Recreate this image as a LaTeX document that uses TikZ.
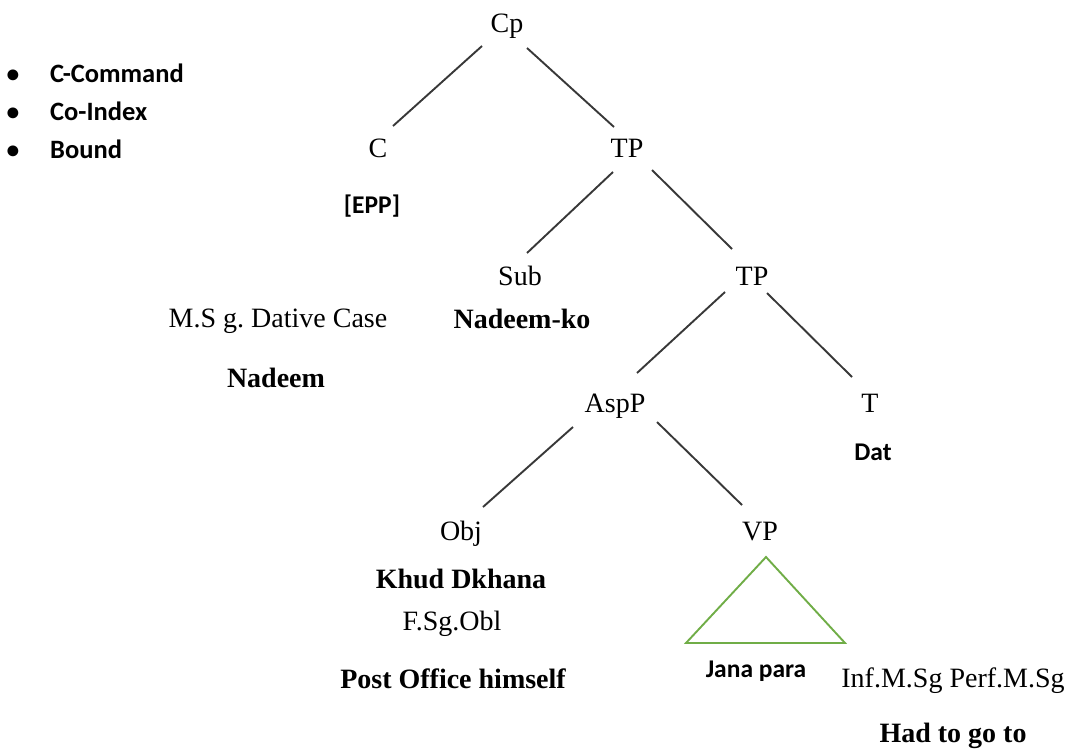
\documentclass[tikz,border=0pt]{standalone}
\usepackage{fontspec}
\setmainfont{Liberation Serif}
\newfontfamily\carlito{Carlito}
\frenchspacing
\begin{document}
\begin{tikzpicture}[x=1pt,y=-1pt,
  lbl/.style={inner sep=0pt,anchor=base,font=\fontsize{28}{34}\selectfont},
  blbl/.style={lbl,font=\fontsize{28}{34}\selectfont\bfseries},
  clbl/.style={inner sep=0pt,anchor=base,font=\fontsize{25.5}{30}\selectfont\carlito\bfseries},
  item/.style={inner sep=0pt,anchor=base west,font=\fontsize{26.5}{30}\selectfont\carlito\bfseries},
  edge/.style={line width=1.9pt,draw=black!78},
  tri/.style={line width=1.9pt,draw={rgb,255:red,112;green,173;blue,71}}
]
\useasboundingbox (0,0) rectangle (1076,753);

% bullet list
\node[clbl] (b1) at (13,82) {•};
\node[clbl] (b2) at (13,120) {•};
\node[clbl] (b3) at (13,158) {•};
\node[item] (i1) at (50,82) {C-Command};
\node[item] (i2) at (50,120) {Co-Index};
\node[item] (i3) at (50,158) {Bound};

% tree nodes
\node[lbl] (cp) at (507,32) {Cp};
\node[lbl] (c) at (378,157) {C};
\node[lbl] (tp1) at (627,157) {TP};
\node[lbl] (sub) at (520,285) {Sub};
\node[lbl] (tp2) at (752,285) {TP};
\node[lbl] (asp) at (615,412) {AspP};
\node[lbl] (t) at (870,412) {T};
\node[lbl] (obj) at (461,540) {Obj};
\node[lbl] (vp) at (760,540) {VP};

% annotations
\node[clbl] (epp) at (372,213) {[EPP]};
\node[lbl] (msg) at (278,327) {M.S g. Dative Case};
\node[blbl] (nad) at (276,387) {Nadeem};
\node[blbl] (nadko) at (522,328) {Nadeem-ko};
\node[clbl] (dat) at (873,460) {Dat};
\node[blbl] (khud) at (461,588) {Khud Dkhana};
\node[lbl] (fsg) at (452,630) {F.Sg.Obl};
\node[blbl] (post) at (453,688) {Post Office himself};
\node[clbl] (jana) at (756,677) {Jana para};
\node[lbl] (inf) at (953,687) {Inf.M.Sg Perf.M.Sg};
\node[blbl] (had) at (953,742) {Had to go to};

% branches
\draw[edge] ([shift={(-25,14)}]cp.base) -- ([shift={(15,-31)}]c.base);
\draw[edge] ([shift={(20,16)}]cp.base) -- ([shift={(-13,-30)}]tp1.base);
\draw[edge] ([shift={(-14,15)}]tp1.base) -- ([shift={(7,-32)}]sub.base);
\draw[edge] ([shift={(25,13)}]tp1.base) -- ([shift={(-20,-36)}]tp2.base);
\draw[edge] ([shift={(-27,7)}]tp2.base) -- ([shift={(22,-39)}]asp.base);
\draw[edge] ([shift={(15,8)}]tp2.base) -- ([shift={(-18,-35)}]t.base);
\draw[edge] ([shift={(-42,15)}]asp.base) -- ([shift={(22,-33)}]obj.base);
\draw[edge] ([shift={(42,10)}]asp.base) -- ([shift={(-18,-35)}]vp.base);

% VP triangle
\coordinate (apex) at ([shift={(6,17)}]vp.base);
\coordinate (bl) at ([shift={(-74,103)}]vp.base);
\coordinate (br) at ([shift={(85,103)}]vp.base);
\draw[tri,line join=miter] (apex) -- (bl) -- (br) -- cycle;
\end{tikzpicture}
\end{document}
